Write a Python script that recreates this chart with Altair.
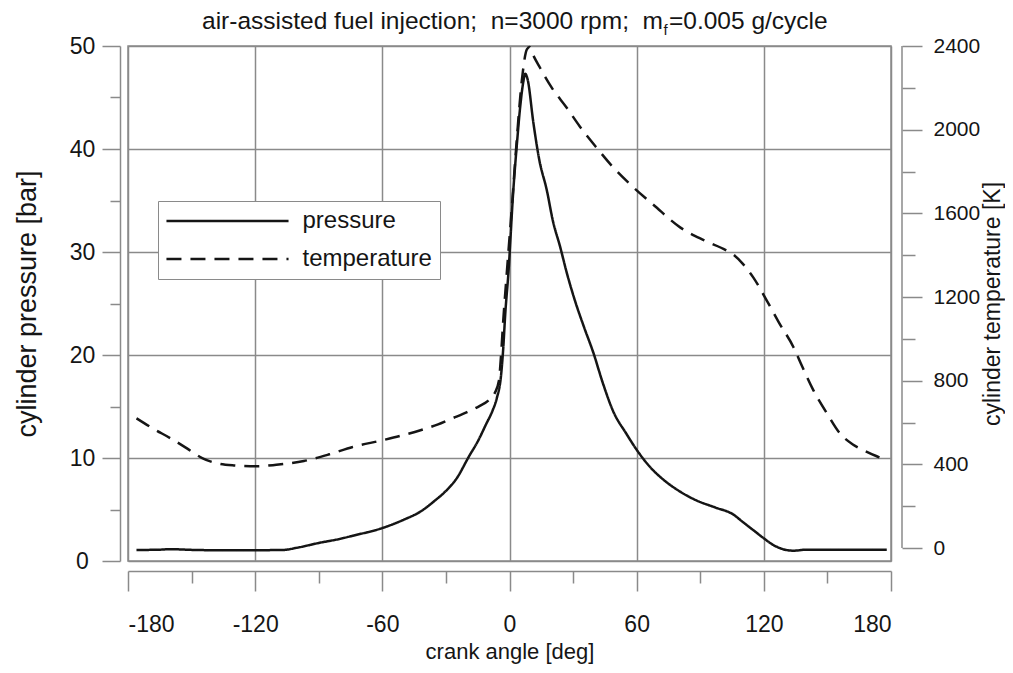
import altair as alt
import pandas as pd

# ---------------- data ----------------
angle_p = [-176, -165, -160, -150, -140, -120, -107, -100, -90, -80,
           -74, -60, -50, -42, -35, -30, -25, -19, -15, -11,
           -8, -6, -4, -3, -2, -0.5, 1.8, 3.5, 5, 6.5,
           7.4, 8.5, 11.3, 14, 17.6, 20.5, 23.9, 27, 31, 35,
           39.6, 44, 49, 55, 60, 66, 72.6, 80, 88, 97,
           105.7, 110, 115, 120, 124.5, 129, 134, 140, 178]
pressure = [1.07, 1.1, 1.15, 1.08, 1.05, 1.05, 1.07, 1.3, 1.75, 2.15,
            2.45, 3.2, 4.0, 4.8, 5.9, 6.8, 8.0, 10.2, 11.6, 13.3,
            14.6, 15.8, 18.0, 20.5, 24, 28, 36, 40.5, 44, 46.5,
            47.3, 46.8, 42.5, 39, 36, 33, 30.5, 28, 25.2, 22.8,
            20.2, 17.3, 14.5, 12.4, 10.8, 9.2, 7.9, 6.8, 5.9, 5.2,
            4.5, 3.8, 3.0, 2.2, 1.55, 1.15, 1.0, 1.1, 1.1]

angle_t = [-176, -168, -160, -152, -145, -138, -130, -119, -110, -97,
           -85, -74, -60, -50, -42, -34, -27, -20, -14, -10,
           -7, -5, -4, -3, -1.3, 1.1, 3.4, 5.8, 8.2, 9.5,
           11, 14.4, 20, 27, 33, 41, 49, 58.5, 68, 80.5,
           92, 102.5, 106, 110, 115, 121.4, 127, 134, 138, 143.4,
           150, 156, 162, 167, 173, 178]
temperature = [620, 570, 525, 475, 430, 405, 395, 391, 398, 416,
               448, 483, 515, 540, 563, 590, 620, 650, 680, 705,
               740, 800, 920, 1080, 1312, 1628, 1947, 2233, 2384, 2395,
               2360, 2296, 2200, 2105, 2018, 1915, 1819, 1724, 1640, 1533,
               1470, 1422, 1400, 1360, 1294, 1183, 1080, 960, 870, 754,
               640, 547, 495, 468, 440, 420]

series_names = ["pressure", "temperature"]
x_ticks = list(range(-180, 181, 30))
p_ticks = list(range(0, 51, 5))
t_ticks = list(range(0, 2401, 200))
t_axis_span = [0, 2400]

title_main = "air-assisted fuel injection; \u00a0n=3000 rpm; \u00a0m"
title_sub = "f"
title_tail = "=0.005 g/cycle"
x_title = "crank angle [deg]"
p_title = "cylinder pressure [bar]"
t_title = "cylinder temperature [K]"

# ---------------- style ----------------
FONT = "Liberation Sans"
GRAY = "#8a8a8a"
INK = "#151515"
W, H = 763, 515

df_p = pd.DataFrame({"angle": angle_p, "value": pressure, "series": series_names[0]})
df_t = pd.DataFrame({"angle": angle_t, "value": temperature, "series": series_names[1]})
df_r = pd.DataFrame({"lo": [t_axis_span[0]], "hi": [t_axis_span[1]]})

x_scale = alt.Scale(domain=[-180, 180], nice=False, zero=False)
p_scale = alt.Scale(domain=[0, 50], nice=False)
t_scale = alt.Scale(domain=[-62, 2400], nice=False, zero=False)

x_axis = alt.Axis(
    values=x_ticks,
    labelExpr="datum.value % 60 === 0 ? '' + datum.value : ''",
    tickSize={"condition": {"test": "datum.value % 60 === 0", "value": 20}, "value": 12},
    gridOpacity={"condition": {"test": "datum.value % 60 === 0", "value": 1}, "value": 0},
    grid=True, offset=10, labelPadding=22, labelFontSize=23,
    title=x_title, titleFontSize=22, titlePadding=5,
)

t_axis = alt.Axis(
    orient="right", values=t_ticks,
    labelExpr="datum.value % 400 === 0 ? '' + datum.value : ''",
    tickSize={"condition": {"test": "datum.value % 400 === 0", "value": 20}, "value": 13},
    grid=False, domain=False, offset=11, labelPadding=11, labelFontSize=21,
    title=t_title, titleFontSize=23, titlePadding=25, titleAngle=270,
)

dash = alt.StrokeDash(
    "series:N",
    scale=alt.Scale(domain=series_names, range=[[1, 0], [15, 9]]),
    legend=alt.Legend(
        title=None, orient="none", legendX=30, legendY=155, direction="vertical",
        symbolType="M-6,0H6", symbolSize=414, symbolStrokeWidth=2.5,
        symbolOffset=49.5, symbolStrokeColor=INK, symbolFillColor="transparent",
        labelFontSize=24, labelFont=FONT, labelColor=INK,
        labelOffset=63, rowPadding=14, padding=8, strokeColor=GRAY, fillColor="white",
    ),
)

p_line = alt.Chart(df_p).mark_line(color=INK, strokeWidth=2.5, interpolate="monotone").encode(
    x=alt.X("angle:Q", scale=x_scale, axis=x_axis),
    y=alt.Y(
        "value:Q", scale=p_scale,
        axis=alt.Axis(
            values=p_ticks,
            labelExpr="datum.value % 10 === 0 ? '' + datum.value : ''",
            tickSize={"condition": {"test": "datum.value % 10 === 0", "value": 18}, "value": 10},
            gridOpacity={"condition": {"test": "datum.value % 10 === 0", "value": 1}, "value": 0},
            grid=True, offset=8, labelAlign="center", labelPadding=20, labelFontSize=23,
            title=p_title, titleFontSize=27, titlePadding=28,
        ),
    ),
    strokeDash=dash,
)

t_line = alt.Chart(df_t).mark_line(color=INK, strokeWidth=2.5, interpolate="monotone").encode(
    x=alt.X("angle:Q", scale=x_scale, axis=x_axis),
    y=alt.Y("value:Q", scale=t_scale, axis=t_axis),
    strokeDash=dash,
)

t_rule = alt.Chart(df_r).mark_rule(color=GRAY, strokeWidth=1.5).encode(
    x=alt.value(W + 11),
    y=alt.Y("lo:Q", scale=t_scale, axis=t_axis),
    y2="hi:Q",
)

t_group = alt.layer(t_line, t_rule)

df_title = pd.DataFrame({"a": [title_main], "b": [title_sub], "c": [title_tail]})
tt_a = alt.Chart(df_title).mark_text(align="right", baseline="middle", fontSize=24.5, font=FONT, color=INK).encode(
    x=alt.value(535), y=alt.value(-24), text="a:N")
tt_b = alt.Chart(df_title).mark_text(align="left", baseline="middle", fontSize=15, font=FONT, color=INK).encode(
    x=alt.value(535.5), y=alt.value(-16), text="b:N")
tt_c = alt.Chart(df_title).mark_text(align="left", baseline="middle", fontSize=24.5, font=FONT, color=INK).encode(
    x=alt.value(541), y=alt.value(-24), text="c:N")

chart = alt.layer(p_line, t_group, tt_a, tt_b, tt_c).resolve_scale(
    y="independent"
).properties(
    width=W, height=H,
    autosize=alt.AutoSizeParams(type="none"),
    padding={"left": 120, "top": 38, "right": 114, "bottom": 104},
).configure_view(
    stroke=GRAY, strokeWidth=1.5,
).configure_axis(
    domainColor=GRAY, domainWidth=1.5, tickColor=GRAY, tickWidth=1.5,
    gridColor=GRAY, gridWidth=1.5, labelFont=FONT, titleFont=FONT,
    labelColor=INK, titleColor=INK, titleFontWeight="normal",
)

chart.save("out.html", embed_options={"renderer": "svg", "actions": False})
